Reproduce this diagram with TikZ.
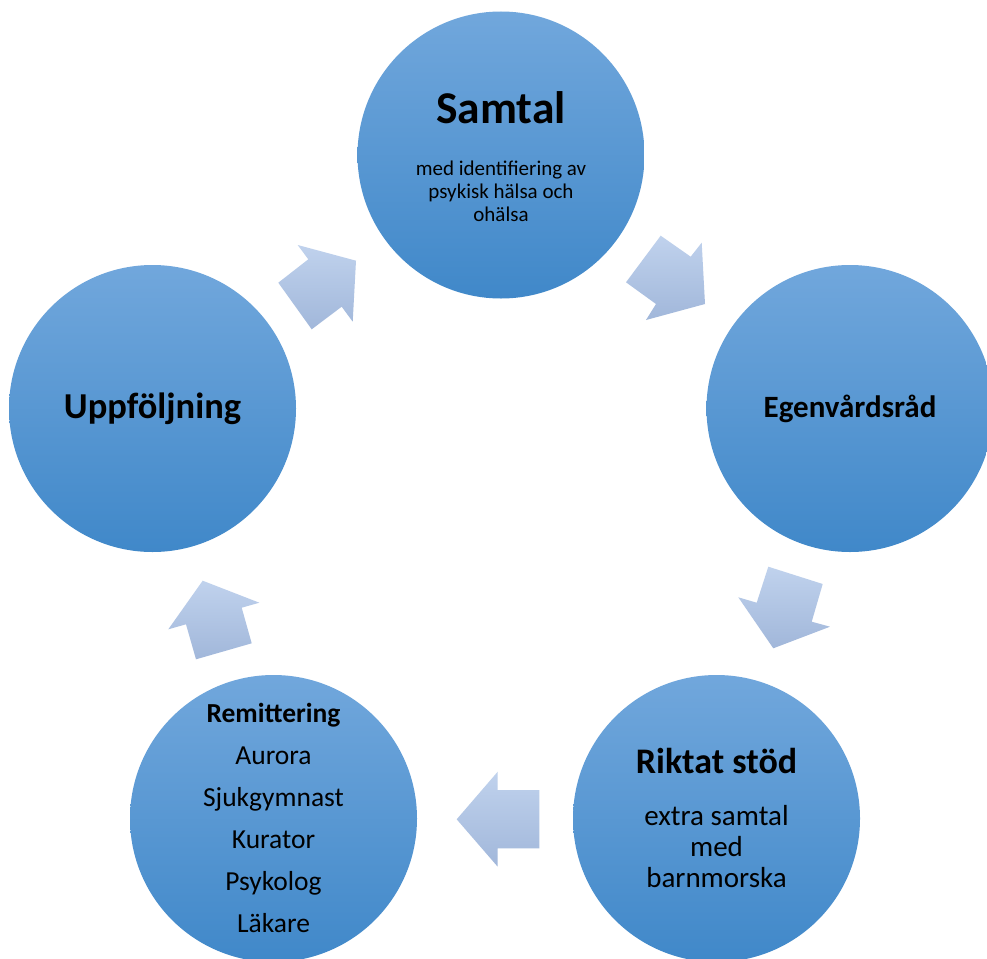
\documentclass[tikz,border=0pt]{standalone}
\usepackage{fontspec}
\setmainfont{Carlito}
\definecolor{ctop}{RGB}{113,167,220}
\definecolor{cbot}{RGB}{64,136,201}
\definecolor{atop}{RGB}{192,210,237}
\definecolor{abot}{RGB}{161,183,218}
\begin{document}
\begin{tikzpicture}[x=1pt,y=-1pt,
  circ/.style={circle, minimum size=287pt, inner sep=0pt, draw=none, top color=ctop, bottom color=cbot},
  blockarrow/.style={top color=atop, bottom color=abot, draw=none},
  txt/.style={anchor=base, inner sep=0pt, text=black},
  bigtitle/.style={txt, font=\bfseries\fontsize{45.5}{50}\selectfont},
  midtitle/.style={txt, font=\bfseries\fontsize{36}{40}\selectfont},
  smalltitle/.style={txt, font=\bfseries\fontsize{27.5}{32}\selectfont},
  subtxt/.style={txt, font=\fontsize{21}{23}\selectfont},
  bodytxt/.style={txt, font=\fontsize{29}{31}\selectfont},
  listtxt/.style={txt, font=\fontsize{27.5}{32}\selectfont}
]
\useasboundingbox (0,0) rectangle (987,958);
\fill[white] (0,0) rectangle (987,958);

% circles
\node[circ] (samtal) at (501,155) {};
\node[circ] (egen) at (850,408.5) {};
\node[circ] (riktat) at (716.5,818.5) {};
\node[circ] (remit) at (273.5,818.5) {};
\node[circ] (uppf) at (152.5,408.5) {};

% block arrows
\shade[blockarrow] (297.7,245) -- (356,260.7) -- (352.7,321.7) -- (341.7,306.7)
  -- (311.7,329.3) -- (278.3,282.7) -- (308.3,259.3) -- cycle;
\shade[blockarrow] (660.7,235.7) -- (690.7,256.7) -- (701.7,242.7) -- (705,304)
  -- (646,320) -- (656,304) -- (626,282.3) -- cycle;
\shade[blockarrow] (768.3,566.7) -- (822.7,584) -- (811.7,621.7) -- (830,626.7)
  -- (773.3,648.3) -- (738.3,597.3) -- (756.7,602.7) -- cycle;
\shade[blockarrow] (456.7,819.3) -- (497.7,771.7) -- (497.7,790) -- (539.3,790)
  -- (539.3,848.3) -- (497.7,848.3) -- (497.7,866.7) -- cycle;
\shade[blockarrow] (202.7,580.7) -- (259.3,602.7) -- (241.7,607.7) -- (251.7,643.3)
  -- (196,659.3) -- (186,624.3) -- (168.3,629.3) -- cycle;

% texts: Samtal
\node[bigtitle] (t1) at (501,123) {Samtal};
\node[subtxt] (t1a) at (501,175) {med identifiering av};
\node[subtxt] (t1b) at (501,198) {psykisk hälsa och};
\node[subtxt] (t1c) at (501,221) {ohälsa};
% Egenvårdsråd
\node[txt, font=\bfseries\fontsize{31}{34}\selectfont] (t2) at (850,417) {Egenvårdsråd};
% Riktat stöd
\node[midtitle] (t3) at (716.5,773) {Riktat stöd};
\node[bodytxt] (t3a) at (716.5,825) {extra samtal};
\node[bodytxt] (t3b) at (716.5,856) {med};
\node[bodytxt] (t3c) at (716.5,887) {barnmorska};
% Remittering
\node[smalltitle] (t4) at (273.5,722) {Remittering};
\node[listtxt] (t4a) at (273.5,764) {Aurora};
\node[listtxt] (t4b) at (273.5,806) {Sjukgymnast};
\node[listtxt] (t4c) at (273.5,848) {Kurator};
\node[listtxt] (t4d) at (273.5,890) {Psykolog};
\node[listtxt] (t4e) at (273.5,932) {Läkare};
% Uppföljning
\node[txt, font=\bfseries\fontsize{36.5}{40}\selectfont] (t5) at (152.5,418) {Uppföljning};
\end{tikzpicture}
\end{document}
